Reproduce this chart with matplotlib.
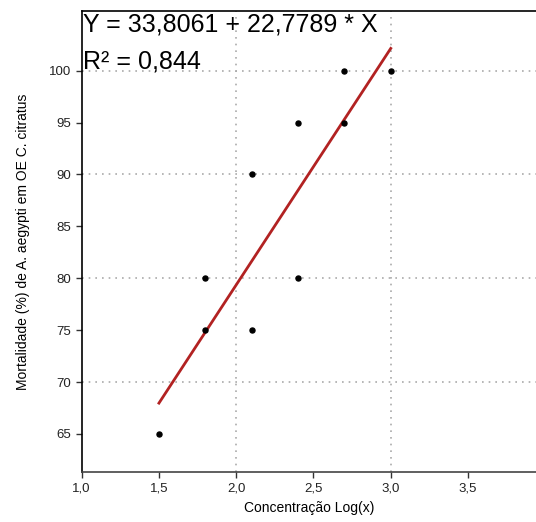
import matplotlib
matplotlib.use('Agg')
import matplotlib.pyplot as plt
from matplotlib.ticker import FuncFormatter

plt.rcParams['font.family'] = ['Liberation Sans', 'DejaVu Sans']

# data
log_conc = [1.5, 1.8, 1.8, 2.1, 2.1, 2.4, 2.4, 2.7, 2.7, 3.0]
mortality = [65, 75, 80, 75, 90, 80, 95, 95, 100, 100]
intercept = 33.8061
slope = 22.7789
r2 = 0.844
fit_x = [1.5, 3.0]

xticks = [1.0, 1.5, 2.0, 2.5, 3.0, 3.5]
yticks = [65, 70, 75, 80, 85, 90, 95, 100]
grid_x = [2.0, 3.0]
grid_y = [70, 80, 90, 100]

fig = plt.figure(figsize=(5.36, 5.22), dpi=100)
ax = fig.add_axes([0.1524, 0.0964, 0.8476, 0.8826])

for gx in grid_x:
    ax.axvline(gx, color='#aaaaaa', linestyle=(0, (1, 3)), linewidth=1.2, zorder=1)
for gy in grid_y:
    ax.axhline(gy, color='#aaaaaa', linestyle=(0, (1, 3)), linewidth=1.2, zorder=1)

fit_y = [intercept + slope * x for x in fit_x]
ax.plot(fit_x, fit_y, color='#b22222', linewidth=2, zorder=2)
ax.scatter(log_conc, mortality, s=13, color='black', zorder=3)

ax.set_xlim(1.0, 3.94)
ax.set_ylim(61.37, 105.75)
ax.set_xticks(xticks)
ax.set_yticks(yticks)
comma = FuncFormatter(lambda v, p: f'{v:.1f}'.replace('.', ','))
ax.xaxis.set_major_formatter(comma)
ax.yaxis.set_major_formatter(FuncFormatter(lambda v, p: f'{v:.0f}'))
ax.tick_params(labelsize=9.5, length=4, width=1, color='#333333', labelcolor='#222222')

ax.spines['right'].set_visible(False)
for s in ['left', 'bottom', 'top']:
    ax.spines[s].set_linewidth(1.2)
ax.spines['bottom'].set_color('#444444')

ax.set_xlabel('Concentração Log(x)', fontsize=10, labelpad=5)
ax.set_ylabel('Mortalidade (%) de A. aegypti em OE C. citratus', fontsize=10, labelpad=14)

ax.text(0.003, 0.997, f'Y = {intercept:.4f} + {slope:.4f} * X'.replace('.', ','),
        transform=ax.transAxes, fontsize=18, va='top', ha='left')
ax.text(0.003, 0.917, f'R² = {r2:.3f}'.replace('.', ','),
        transform=ax.transAxes, fontsize=18, va='top', ha='left')

fig.savefig('out.png', dpi=100)
